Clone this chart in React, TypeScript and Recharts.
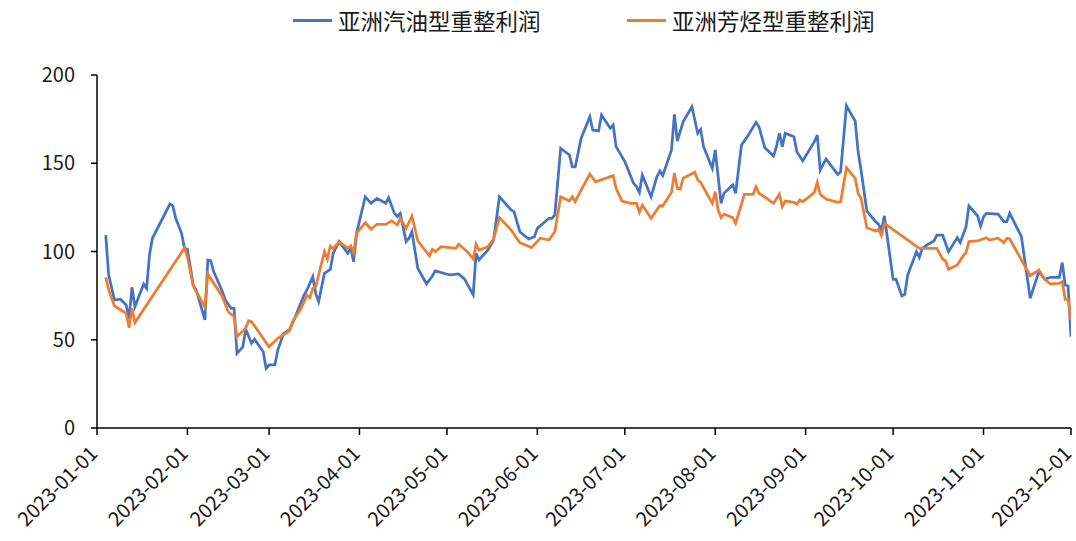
import React from "react";
import { LineChart, Line, XAxis, YAxis, Legend } from "recharts";

const seriesNames = ["亚洲汽油型重整利润", "亚洲芳烃型重整利润"];
const seriesColors = ["#4472C4", "#ED7D31"];

const xTickLabels = [
  "2023-01-01", "2023-02-01", "2023-03-01", "2023-04-01", "2023-05-01", "2023-06-01",
  "2023-07-01", "2023-08-01", "2023-09-01", "2023-10-01", "2023-11-01", "2023-12-01",
];
const yTicks = [0, 50, 100, 150, 200];

const blueDates = [
  "2023-01-04", "2023-01-05", "2023-01-07", "2023-01-09", "2023-01-11", "2023-01-12", "2023-01-13", "2023-01-14",
  "2023-01-17", "2023-01-18", "2023-01-19", "2023-01-20", "2023-01-26", "2023-01-27", "2023-01-28", "2023-01-30",
  "2023-01-31", "2023-02-01", "2023-02-03", "2023-02-04", "2023-02-07", "2023-02-08", "2023-02-09", "2023-02-10",
  "2023-02-13", "2023-02-14", "2023-02-16", "2023-02-17", "2023-02-18", "2023-02-20", "2023-02-21", "2023-02-23",
  "2023-02-24", "2023-02-27", "2023-02-28", "2023-03-01", "2023-03-03", "2023-03-04", "2023-03-06", "2023-03-08",
  "2023-03-10", "2023-03-13", "2023-03-14", "2023-03-16", "2023-03-17", "2023-03-18", "2023-03-20", "2023-03-22",
  "2023-03-23", "2023-03-25", "2023-03-28", "2023-03-29", "2023-03-30", "2023-03-31", "2023-04-03", "2023-04-05",
  "2023-04-07", "2023-04-10", "2023-04-11", "2023-04-13", "2023-04-14", "2023-04-15", "2023-04-17", "2023-04-18",
  "2023-04-19", "2023-04-21", "2023-04-24", "2023-04-26", "2023-04-27", "2023-05-02", "2023-05-05", "2023-05-07",
  "2023-05-10", "2023-05-11", "2023-05-12", "2023-05-15", "2023-05-17", "2023-05-19", "2023-05-23", "2023-05-24",
  "2023-05-26", "2023-05-29", "2023-05-31", "2023-06-01", "2023-06-05", "2023-06-06", "2023-06-07", "2023-06-09",
  "2023-06-12", "2023-06-13", "2023-06-14", "2023-06-16", "2023-06-19", "2023-06-20", "2023-06-22", "2023-06-23",
  "2023-06-26", "2023-06-27", "2023-06-28", "2023-07-01", "2023-07-04", "2023-07-05", "2023-07-06", "2023-07-07",
  "2023-07-10", "2023-07-12", "2023-07-13", "2023-07-14", "2023-07-17", "2023-07-18", "2023-07-19", "2023-07-21",
  "2023-07-24", "2023-07-26", "2023-07-27", "2023-07-28", "2023-07-31", "2023-08-01", "2023-08-03", "2023-08-04",
  "2023-08-07", "2023-08-08", "2023-08-10", "2023-08-12", "2023-08-15", "2023-08-16", "2023-08-18", "2023-08-21",
  "2023-08-22", "2023-08-23", "2023-08-24", "2023-08-25", "2023-08-28", "2023-08-29", "2023-08-31", "2023-09-04",
  "2023-09-05", "2023-09-06", "2023-09-08", "2023-09-12", "2023-09-13", "2023-09-15", "2023-09-18", "2023-09-19",
  "2023-09-20", "2023-09-22", "2023-09-25", "2023-09-26", "2023-09-27", "2023-09-28", "2023-10-01", "2023-10-02",
  "2023-10-04", "2023-10-05", "2023-10-06", "2023-10-09", "2023-10-10", "2023-10-11", "2023-10-13", "2023-10-15",
  "2023-10-16", "2023-10-18", "2023-10-20", "2023-10-23", "2023-10-24", "2023-10-26", "2023-10-27", "2023-10-30",
  "2023-10-31", "2023-11-01", "2023-11-02", "2023-11-06", "2023-11-08", "2023-11-09", "2023-11-10", "2023-11-14",
  "2023-11-17", "2023-11-20", "2023-11-22", "2023-11-24", "2023-11-27", "2023-11-28", "2023-11-29", "2023-11-30",
  "2023-12-01",
];
const blueValues = [
  109.3, 86.7, 72.5, 73, 69.7, 62, 79.7, 68.7,
  81.6, 79.1, 98, 107.5, 126.9, 125.8, 118.8, 110.3,
  101.8, 101.2, 81, 78.2, 61.2, 95.2, 94.8, 88.6,
  77.2, 72.5, 67.8, 67.8, 42.3, 46, 55.9, 48,
  50.3, 43.2, 33.8, 35.7, 35.7, 44.2, 53.6, 55.5,
  63, 75.3, 78.2, 85.7, 76.3, 71.6, 87.6, 89.9,
  99, 105.6, 99, 102.2, 94.2, 110.3, 131, 127.3,
  130.1, 127.3, 130.5, 121.6, 119.7, 121.6, 105.6, 107.5,
  111.2, 90.5, 81.6, 86.1, 89, 86.7, 87.3, 84.5,
  75.5, 99, 95.2, 100.8, 106.5, 131, 123.5, 122.6,
  111.2, 107.1, 108.4, 113.1, 118.8, 118.8, 120.7, 158.5,
  154.7, 148, 148, 164.1, 176.4, 168.8, 168.3, 177.3,
  169.8, 171.7, 159.4, 150.9, 138.6, 136.8, 133.5, 143.3,
  131, 142.4, 145.6, 143, 157.5, 177.7, 162.6, 173.5,
  182, 167, 169.2, 159.4, 147.1, 157.5, 127.3, 133,
  137.7, 133, 160.3, 165, 173.2, 170.7, 158.8, 154.1,
  159.4, 167, 159.4, 167, 165, 156.5, 151.3, 162.2,
  166, 146.2, 152.4, 143.7, 145.2, 182.6, 173.9, 156.5,
  146.2, 122.9, 116.9, 115.5, 112, 120.2, 84.2, 84.2,
  74.8, 75.7, 86.7, 99.9, 96.7, 101.8, 104.1, 106,
  109.3, 109.3, 99.9, 107.8, 105, 114, 125.8, 120.1,
  114.4, 119.7, 121.6, 121.2, 116.9, 116.9, 121.6, 108.4,
  73.5, 88.6, 84.2, 85.4, 85.4, 93.7, 81, 80.5,
  51.7,
];

const orangeDates = [
  "2023-01-04", "2023-01-05", "2023-01-07", "2023-01-11", "2023-01-12", "2023-01-13", "2023-01-14", "2023-01-31",
  "2023-02-01", "2023-02-03", "2023-02-07", "2023-02-08", "2023-02-13", "2023-02-15", "2023-02-17", "2023-02-18",
  "2023-02-21", "2023-02-22", "2023-02-23", "2023-02-25", "2023-03-01", "2023-03-04", "2023-03-08", "2023-03-09",
  "2023-03-12", "2023-03-14", "2023-03-15", "2023-03-16", "2023-03-17", "2023-03-20", "2023-03-21", "2023-03-22",
  "2023-03-23", "2023-03-25", "2023-03-28", "2023-03-29", "2023-03-30", "2023-03-31", "2023-04-03", "2023-04-05",
  "2023-04-07", "2023-04-10", "2023-04-12", "2023-04-14", "2023-04-15", "2023-04-17", "2023-04-19", "2023-04-21",
  "2023-04-25", "2023-04-26", "2023-04-27", "2023-04-29", "2023-05-02", "2023-05-04", "2023-05-05", "2023-05-08",
  "2023-05-10", "2023-05-11", "2023-05-12", "2023-05-15", "2023-05-17", "2023-05-19", "2023-05-23", "2023-05-26",
  "2023-05-30", "2023-06-02", "2023-06-05", "2023-06-07", "2023-06-09", "2023-06-12", "2023-06-13", "2023-06-14",
  "2023-06-16", "2023-06-19", "2023-06-21", "2023-06-27", "2023-06-28", "2023-06-30", "2023-07-03", "2023-07-05",
  "2023-07-06", "2023-07-07", "2023-07-10", "2023-07-13", "2023-07-14", "2023-07-17", "2023-07-18", "2023-07-19",
  "2023-07-20", "2023-07-21", "2023-07-25", "2023-07-26", "2023-07-27", "2023-07-31", "2023-08-01", "2023-08-02",
  "2023-08-03", "2023-08-04", "2023-08-07", "2023-08-08", "2023-08-11", "2023-08-14", "2023-08-15", "2023-08-16",
  "2023-08-19", "2023-08-21", "2023-08-23", "2023-08-24", "2023-08-25", "2023-08-28", "2023-08-29", "2023-08-30",
  "2023-08-31", "2023-09-04", "2023-09-05", "2023-09-06", "2023-09-08", "2023-09-12", "2023-09-13", "2023-09-15",
  "2023-09-18", "2023-09-19", "2023-09-20", "2023-09-22", "2023-09-25", "2023-09-26", "2023-09-27", "2023-09-28",
  "2023-10-10", "2023-10-16", "2023-10-18", "2023-10-19", "2023-10-20", "2023-10-23", "2023-10-25", "2023-10-26",
  "2023-10-27", "2023-10-30", "2023-11-02", "2023-11-03", "2023-11-06", "2023-11-08", "2023-11-09", "2023-11-10",
  "2023-11-17", "2023-11-20", "2023-11-22", "2023-11-24", "2023-11-27", "2023-11-28", "2023-11-29", "2023-11-30",
  "2023-12-01",
];
const orangeValues = [
  85.4, 78.2, 69.1, 65, 56.8, 67.8, 59.7, 102,
  97, 80.5, 68.4, 87.3, 74.4, 65.9, 63.1, 51.7,
  56.5, 60.8, 60.2, 55.5, 46, 50.8, 55.1, 60.2,
  67.8, 75.3, 73.8, 79.1, 80, 99.9, 95.6, 103.1,
  101.6, 105.6, 101.8, 103.1, 99.3, 110.3, 116.3, 112.6,
  115.4, 115.4, 117.3, 115, 118.8, 113.1, 120.1, 106.1,
  97.5, 101.2, 99.9, 102.7, 102.2, 101.8, 104.1, 99.9,
  95.8, 104.1, 100.8, 102.7, 107.1, 119.2, 112.2, 105,
  102.2, 107.5, 106.5, 111.2, 131, 128.6, 131, 128.2,
  134.8, 143.9, 139.5, 143, 135.8, 128.6, 127.3, 127.3,
  122.2, 126.3, 118.8, 125.9, 125.8, 133.5, 144.3, 135.8,
  135.4, 141.5, 144.9, 140.5, 139.2, 127.3, 133.9, 123.5,
  119.2, 121.2, 119.2, 116, 132.4, 132.4, 136.7, 133,
  129.7, 127.3, 132.4, 125.4, 128.6, 127.9, 126.8, 129.2,
  128.2, 133.5, 139.2, 132.4, 129.7, 127.9, 128.2, 147.5,
  141.5, 133, 130.1, 113.5, 111.6, 112.6, 109, 116,
  101.8, 101.8, 95.6, 94.6, 89.9, 92.4, 97.5, 99.3,
  105.6, 106, 107.8, 106.5, 107.5, 105, 107.5, 107.1,
  86.3, 89.5, 84.2, 81.6, 82, 82.9, 72.9, 72.9,
  61.2,
];

const toTs = (s: string) => {
  const [y, m, d] = s.split("-").map(Number);
  return Date.UTC(y, m - 1, d);
};

const blueData = blueDates.map((d, i) => ({ t: toTs(d), v: blueValues[i] }));
const orangeData = orangeDates.map((d, i) => ({ t: toTs(d), v: orangeValues[i] }));
const xTicks = xTickLabels.map(toTs);
const labelByTs: Record<number, string> = {};
xTickLabels.forEach((l, i) => (labelByTs[xTicks[i]] = l));

const FONT = "'Noto Sans CJK SC', 'Noto Sans', sans-serif";
const TEXT_COLOR = "#1a1a1a";

const XTick = (props: any) => {
  const { x, y, payload } = props;
  return (
    <g transform={`translate(${x - 3},${y + 13})`}>
      <text
        textAnchor="end"
        transform="rotate(-45)"
        dy="0.35em"
        fontSize={20}
        fontFamily={FONT}
        fill={TEXT_COLOR}
      >
        {labelByTs[payload.value]}
      </text>
    </g>
  );
};

const legendLefts = [293, 627];

const LegendContent = () => (
  <div style={{ position: "relative", width: 1076, height: 40 }}>
    {seriesNames.map((name, i) => (
      <div
        key={name}
        style={{
          position: "absolute",
          left: legendLefts[i],
          top: 0,
          height: 40,
          display: "flex",
          alignItems: "center",
          fontFamily: FONT,
          fontSize: 22.5,
          color: TEXT_COLOR,
          whiteSpace: "nowrap",
        }}
      >
        <span
          style={{
            display: "inline-block",
            width: 39,
            height: 3,
            background: seriesColors[i],
            marginRight: 6,
          }}
        />
        <span>{name}</span>
      </div>
    ))}
  </div>
);

export default function App() {
  return (
    <div style={{ position: "absolute", left: 0, top: 0, background: "#fff" }}>
      <LineChart width={1076} height={541} margin={{ top: 35, right: 5, bottom: 0, left: 0 }}>
        <XAxis
          dataKey="t"
          type="number"
          scale="time"
          domain={[xTicks[0], xTicks[xTicks.length - 1]]}
          ticks={xTicks}
          interval={0}
          allowDataOverflow
          tick={<XTick />}
          tickSize={7}
          axisLine={{ stroke: "#000", strokeWidth: 1.5 }}
          tickLine={{ stroke: "#000", strokeWidth: 1.5 }}
          height={113}
        />
        <YAxis
          type="number"
          domain={[0, 200]}
          ticks={yTicks}
          interval={0}
          width={97}
          tickSize={6}
          tickMargin={16}
          axisLine={{ stroke: "#000", strokeWidth: 1.5 }}
          tickLine={{ stroke: "#000", strokeWidth: 1.5 }}
          tick={{ fontSize: 20, fontFamily: FONT, fill: TEXT_COLOR }}
        />
        <Legend
          verticalAlign="top"
          content={<LegendContent />}
          wrapperStyle={{ position: "absolute", top: 0, left: 0, width: 1076, height: 40 }}
        />
        <Line
          data={blueData}
          dataKey="v"
          name={seriesNames[0]}
          stroke={seriesColors[0]}
          strokeWidth={2.75}
          dot={false}
          isAnimationActive={false}
        />
        <Line
          data={orangeData}
          dataKey="v"
          name={seriesNames[1]}
          stroke={seriesColors[1]}
          strokeWidth={2.75}
          dot={false}
          isAnimationActive={false}
        />
      </LineChart>
    </div>
  );
}
